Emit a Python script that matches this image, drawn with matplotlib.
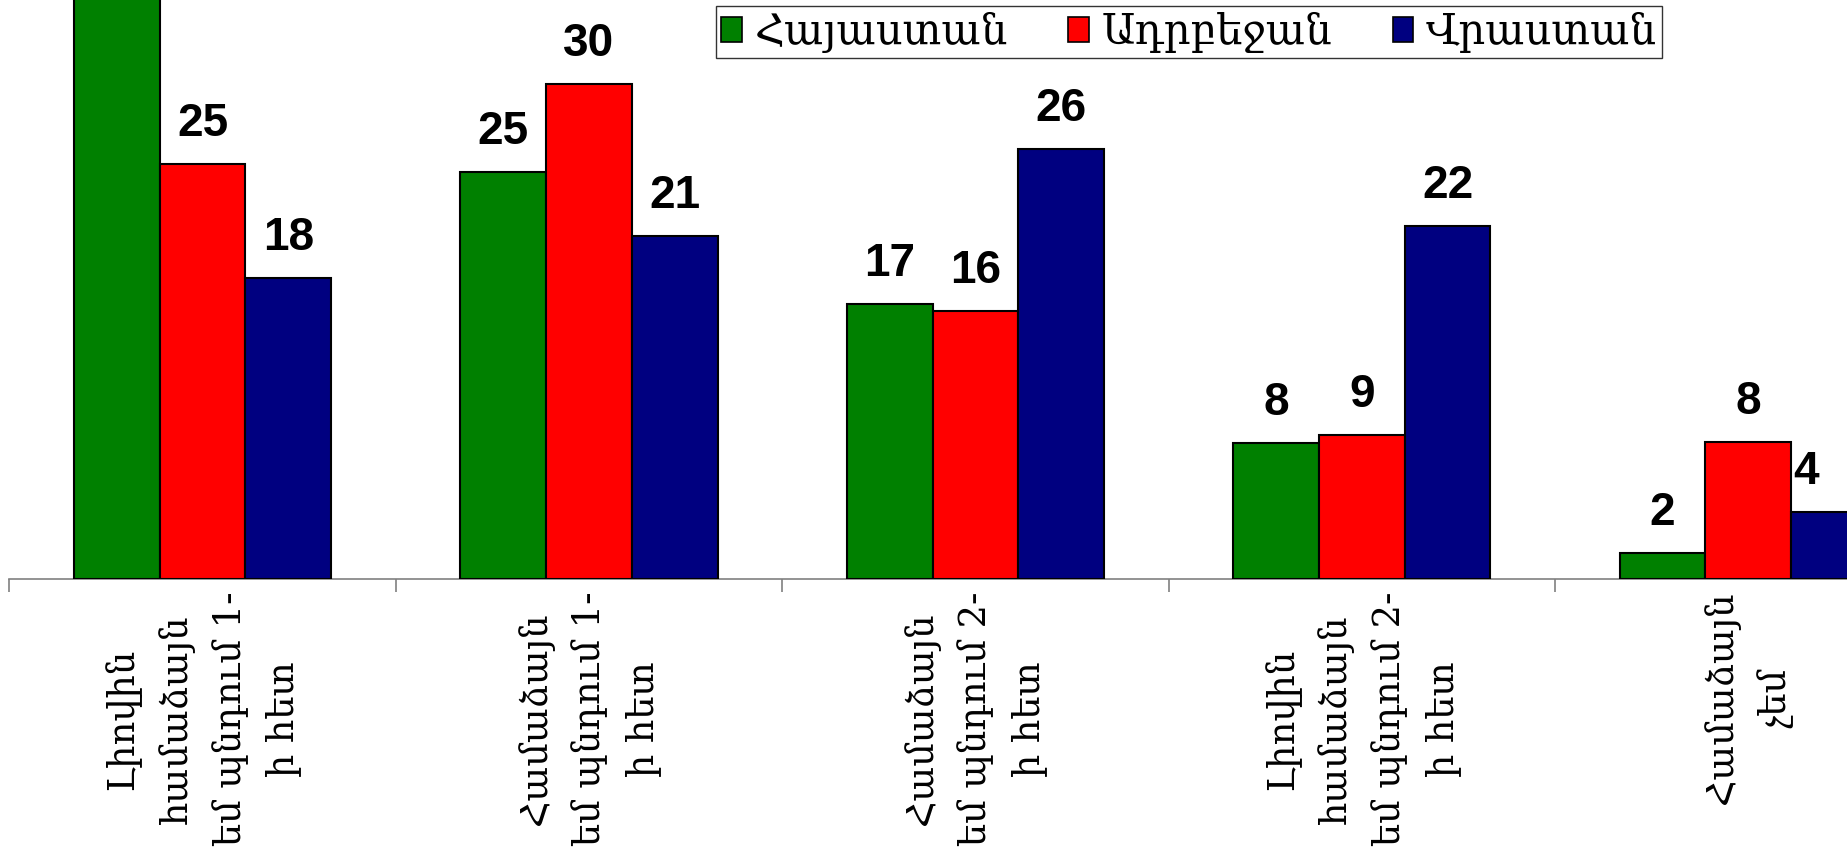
import matplotlib
matplotlib.use('Agg')
import matplotlib.pyplot as plt
import numpy as np

categories = [
    'Լիովին\nհամաձայն\nեմ պնդում 1-\nի հետ',
    'Համաձայն\nեմ պնդում 1-\nի հետ',
    'Համաձայն\nեմ պնդում 2-\nի հետ',
    'Լիովին\nհամաձայն\nեմ պնդում 2-\nի հետ',
    'Համաձայն\nչեմ',
]
series_names = ['Հայաստան', 'Ադրբեջան', 'Վրաստան']
armenia = [36.0, 24.9, 16.8, 8.3, 1.6]
azerbaijan = [25.4, 30.3, 16.4, 8.8, 8.4]
georgia = [18.4, 21.0, 26.3, 21.6, 4.1]
colors = ['#008000', '#ff0000', '#000080']

W, H, DPI = 1847, 864, 100
fig = plt.figure(figsize=(W / DPI, H / DPI), dpi=DPI)
# plot area runs past the right edge, like in the source picture
ax = fig.add_axes([9.4 / W, 1 - 579 / H, 5 * 386.4 / W, 579 / H])

armenian = ['DejaVu Serif', 'DejaVu Sans']
x = np.arange(len(categories))
width = 0.222
bars = []
for i, (vals, name, c) in enumerate(zip([armenia, azerbaijan, georgia], series_names, colors)):
    b = ax.bar(x + (i - 1) * width, vals, width, color=c, edgecolor='black',
               linewidth=1.5, label=name, zorder=3)
    bars.append(b)

ax.set_xlim(-0.5, len(categories) - 0.5)
ymax = 579 / 16.35
ax.set_ylim(0, ymax)

fig.canvas.draw()
renderer = fig.canvas.get_renderer()
for b in bars:
    for rect in b:
        h = rect.get_height()
        if h > ymax:
            # its label is above the picture, not shown in the original
            continue
        cx = rect.get_x() + rect.get_width() / 2
        t = ax.annotate(f'{h:.0f}', (cx, h), xytext=(0, 13), textcoords='offset points',
                        ha='center', va='bottom', fontsize=33, fontweight='bold',
                        family='Liberation Sans', annotation_clip=False)
        # keep labels inside the picture, as the original does
        bb = t.get_window_extent(renderer)
        if bb.x1 > W - 2:
            t.xyann = (-(bb.x1 - W + 28) * 72 / DPI, 13)

for s in ['top', 'left', 'right']:
    ax.spines[s].set_visible(False)
ax.spines['bottom'].set_color('#808080')
ax.spines['bottom'].set_linewidth(1.2)
ax.set_yticks([])
ax.set_xticks(x)
ax.set_xticklabels(categories, rotation=90, ha='center', va='top',
                   multialignment='center', fontsize=26.5, family=armenian, linespacing=1.6)
ax.tick_params(axis='x', which='major', length=0, pad=9)
ax.set_xticks(np.arange(-0.5, len(categories), 1), minor=True)
ax.tick_params(axis='x', which='minor', length=9, width=1.2, color='#808080', direction='out')

leg = ax.legend(loc='upper left', bbox_to_anchor=(716 / W, 1 - 6 / H),
                bbox_transform=fig.transFigure, ncol=3, frameon=True, fancybox=False,
                prop={'family': armenian, 'size': 30}, handlelength=0.5, handleheight=0.55,
                handletextpad=0.3, columnspacing=1.45, borderpad=0.12, borderaxespad=0)
leg.get_frame().set_edgecolor('black')
leg.get_frame().set_linewidth(1.0)
for h in leg.legend_handles:
    h.set_linewidth(1.2)

fig.savefig('out.png', dpi=DPI)
